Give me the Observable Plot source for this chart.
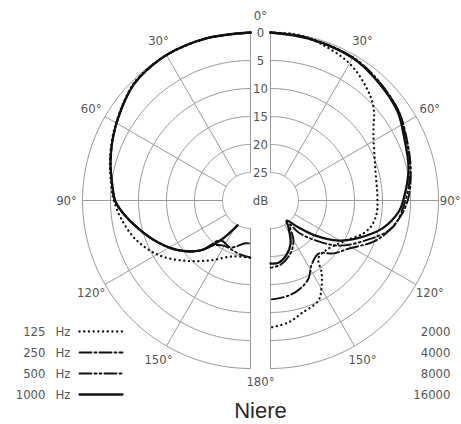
<!DOCTYPE html>
<html><head><meta charset="utf-8">
<script src="https://cdn.jsdelivr.net/npm/d3@7"></script>
<script src="https://cdn.jsdelivr.net/npm/@observablehq/plot@0.6"></script>
<style>body{margin:0;background:#fff}</style>
</head><body><div id="chart"></div>
<script>
// ---- data ----
const rings = [0, 5, 10, 15, 20, 25];
const spokes = [0, 30, 60, 90, 120, 150, 180];
const angleLabels = [30, 60, 90, 120, 150];
const lowFreqs = ["125", "250", "500", "1000"];
const highFreqs = ["2000", "4000", "8000", "16000"];
const title = "Niere";

// [angle in degrees, attenuation in dB] — left half (low frequencies)
const hz125 = [[0,0],[15,0],[30,0],[42,0.3],[48,0.8],[62,2.5],[74,3.9],[85,5.1],[90,5.6],[97.5,6.6],[109,8.4],[121,11.0],[133,14.2],[146,17.1],[162,19.5],[180,19.8]];
const hz250 = [[0,0],[15,0],[30,0],[42,0.4],[48,0.9],[62,2.6],[74,4.0],[85,5.3],[90,5.8],[94,6.7],[100,8.3],[112,11.3],[124,14.2],[135,17.4],[143,21.1],[157,20.9],[173,22.3],[180,22.3]];
const hz500 = [[0,0],[15,0],[30,0],[42,0.4],[48,0.9],[62,2.6],[74,4.0],[85,5.3],[90,5.8],[94,6.7],[100,8.3],[112,11.3],[124,14.2],[135,17.4],[140,19.5],[149,20.6],[169,20.2],[180,19.8]];
const hz1000 = [[0,0],[15,0],[30,0],[42,0.4],[48,0.9],[62,2.6],[74,4.0],[85,5.3],[90,5.8],[94,6.7],[100,8.3],[112,11.3],[124,14.2],[135,17.4],[143,21.1],[152.5,25]];
// right half (high frequencies)
const hz2000 = [[0,0],[9.5,0],[17.7,0.6],[29.5,1.7],[39.6,3.4],[47.9,5.2],[57,8.1],[72.6,10.4],[88.4,10.9],[97,10.9],[104,11.4],[109.5,12.4],[115,14.0],[121,15.4],[132,16.7],[140.4,16.6],[144.7,14.2],[149.6,12.0],[154.4,10.2],[164.7,9.1],[171.6,8.0],[180,7.3]];
const hz4000 = [[0,0],[13,0.3],[30,0.6],[42,1.3],[55,2.1],[63,3.0],[77,4.3],[90,5.5],[100.4,7.3],[110.9,9.9],[121.6,13.6],[130,15.3],[137.8,17.2],[147.8,16.3],[154,14.5],[161.2,13.4],[169.3,12.7],[180,12.3]];
const hz8000 = [[0,0],[13,0.2],[30,0.5],[42,1.2],[55,2.1],[63,3.1],[77,4.4],[90,5.9],[102.5,7.7],[112.8,11.6],[123.5,15.4],[131.6,19.3],[138.8,22.4],[141.5,24.5],[150,21.8],[159.3,19.9],[171,18.4],[180,18.0]];
const hz16000 = [[0,0],[13,0.3],[30,0.6],[42,1.4],[55,2.3],[63,3.4],[77,4.7],[90,6.3],[95,7.0],[104,9.4],[113,12.9],[120.5,15.9],[128,19.8],[134,23.1],[141.3,25.4],[146.3,24.2],[155,21.5],[164,19.8],[172.6,18.8],[180,18.75]];

// ---- layout ----
const W = 461, H = 424, CX = 260, CY = 200, PX = 5.6, FULL = 30, GAP = 10;
const ux = p => (p - CX) / PX;
const uy = p => (CY - p) / PX;
const rad = a => a * Math.PI / 180;
const polarX = (side, ang, db) => side * (GAP / PX + (FULL - db) * Math.sin(rad(ang)));
const polarY = (ang, db) => (FULL - db) * Math.cos(rad(ang));

const dotted = {strokeDasharray: "0.1,4.6", strokeLinecap: "round", strokeWidth: 2.3};
const dashdot = {strokeDasharray: "12,3,2,3", strokeWidth: 1.9};
const dashdotdot = {strokeDasharray: "12,3,2,3,2,3", strokeWidth: 1.9};
const solid = {strokeWidth: 2.3};
const styles = [dotted, dashdot, dashdotdot, solid];

const series = [
  {side: -1, data: hz125, style: dotted},
  {side: -1, data: hz250, style: dashdot},
  {side: -1, data: hz500, style: dashdotdot},
  {side: -1, data: hz1000, style: solid},
  {side: 1, data: hz2000, style: dotted},
  {side: 1, data: hz4000, style: dashdot},
  {side: 1, data: hz8000, style: dashdotdot},
  {side: 1, data: hz16000, style: solid}
];

const gridColor = "#9a9a9a";
const textColor = "#555";

const ringPts = [];
for (const side of [-1, 1]) for (const r of rings) for (const a of d3.range(0, 180.001, 2)) ringPts.push({side, r, a});
const spokePts = [];
for (const side of [-1, 1]) for (const a of spokes) spokePts.push({side, a});

const marks = [];
marks.push(Plot.line(ringPts, {x: d => polarX(d.side, d.a, d.r), y: d => polarY(d.a, d.r), z: d => d.side + ":" + d.r, stroke: gridColor, strokeWidth: 1}));
marks.push(Plot.link(spokePts, {x1: d => polarX(d.side, d.a, rings[rings.length - 1]), y1: d => polarY(d.a, rings[rings.length - 1]), x2: d => polarX(d.side, d.a, rings[0]), y2: d => polarY(d.a, rings[0]), stroke: gridColor, strokeWidth: 1}));

for (const s of series) {
  marks.push(Plot.line(s.data, {x: d => polarX(s.side, d[0], d[1]), y: d => polarY(d[0], d[1]), curve: "catmull-rom", stroke: "#111", ...s.style}));
}

// ring labels
marks.push(Plot.text(rings, {x: 0, y: d => FULL - d, text: d => String(d), fill: textColor}));
marks.push(Plot.text(["dB"], {x: 0, y: 0, text: d => d, fill: textColor}));
marks.push(Plot.text(["0°"], {x: 0, y: uy(15), text: d => d, fill: textColor}));
marks.push(Plot.text(["180°"], {x: 0, y: uy(381), text: d => d, fill: textColor}));
// angle labels
const labelDb = FULL - 184 / PX;
marks.push(Plot.text(angleLabels, {x: d => polarX(-1, d, labelDb), y: d => polarY(d, labelDb), text: d => d + "°", fill: textColor}));
const rightInner = angleLabels.filter(d => d !== 90);
const rightEdge = angleLabels.filter(d => d === 90);
marks.push(Plot.text(rightInner, {x: d => polarX(1, d, labelDb), y: d => polarY(d, labelDb), text: d => d + "°", fill: textColor}));
marks.push(Plot.text(rightEdge, {x: ux(W - 1), y: d => polarY(d, labelDb), text: d => d + "°", textAnchor: "end", fill: textColor}));
// legends
const rowY = [331, 352, 373, 394];
marks.push(Plot.text(lowFreqs, {x: ux(45), y: (d, i) => uy(rowY[i]), text: d => d, textAnchor: "end", fill: textColor}));
marks.push(Plot.text(lowFreqs, {x: ux(55), y: (d, i) => uy(rowY[i]), text: () => "Hz", textAnchor: "start", fill: textColor}));
marks.push(Plot.text(highFreqs, {x: ux(450), y: (d, i) => uy(rowY[i]), text: d => d, textAnchor: "end", fill: textColor}));
lowFreqs.forEach((f, i) => {
  marks.push(Plot.line([[ux(79), uy(rowY[i])], [ux(122), uy(rowY[i])]], {x: d => d[0], y: d => d[1], stroke: "#111", ...styles[i]}));
});
// title
marks.push(Plot.text([title], {x: 0, y: uy(410), text: d => d, fontSize: 22, fill: "#2a2a2a", fontFamily: "Liberation Sans, Arial, sans-serif"}));

const chart = Plot.plot({
  width: W, height: H, margin: 0,
  x: {domain: [ux(0), ux(W)], axis: null},
  y: {domain: [uy(H), uy(0)], axis: null},
  style: {fontFamily: "DejaVu Sans Condensed, DejaVu Sans, sans-serif", fontSize: "13px", background: "#fff", overflow: "hidden"},
  marks
});
document.getElementById("chart").appendChild(chart);
</script>
</body></html>
